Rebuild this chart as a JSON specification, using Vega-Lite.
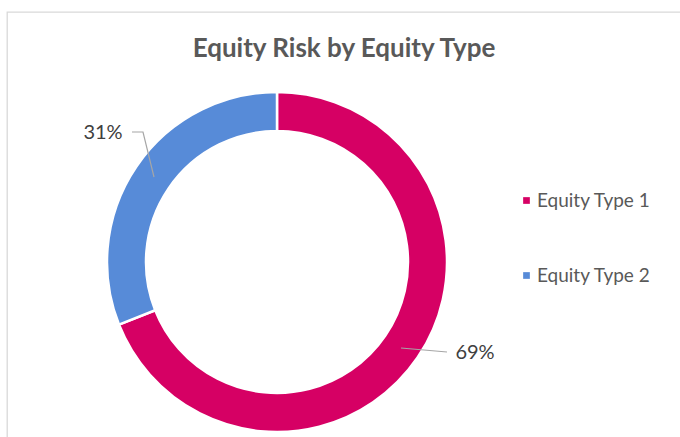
{
  "$schema": "https://vega.github.io/schema/vega-lite/v6.json",
  "width": 700,
  "height": 440,
  "autosize": "none",
  "padding": {"left": 7, "top": 12, "right": 0, "bottom": 0},
  "background": "white",
  "config": {"view": {"stroke": "#D9D9D9", "strokeWidth": 1.3}, "font": "Lato"},
  "title": {
    "text": "Equity Risk by Equity Type",
    "font": "Lato",
    "fontSize": 26,
    "fontWeight": "bold",
    "color": "#595959",
    "anchor": "middle",
    "baseline": "alphabetic",
    "dx": -13,
    "dy": 75
  },
  "layer": [
    {
      "data": {"values": [
        {"type": "Equity Type 1", "value": 69},
        {"type": "Equity Type 2", "value": 31}
      ]},
      "mark": {"type": "arc", "innerRadius": 131, "outerRadius": 170, "stroke": "white", "strokeWidth": 2.5},
      "encoding": {
        "theta": {"field": "value", "type": "quantitative", "stack": true},
        "color": {
          "field": "type",
          "type": "nominal",
          "scale": {"domain": ["Equity Type 1", "Equity Type 2"], "range": ["#D60064", "#578BD8"]},
          "legend": {
            "orient": "none",
            "legendX": 510,
            "legendY": 179,
            "title": null,
            "symbolType": "square",
            "symbolSize": 45,
            "symbolStrokeWidth": 0,
            "labelFont": "Lato",
            "labelFontSize": 19,
            "labelColor": "#595959",
            "labelOffset": 1,
            "rowPadding": 55
          }
        },
        "x": {"datum": 0, "type": "quantitative", "scale": {"domain": [-270, 430], "nice": false, "zero": false}, "axis": null},
        "y": {"datum": 0, "type": "quantitative", "scale": {"domain": [-190, 250], "nice": false, "zero": false}, "axis": null}
      }
    },
    {
      "data": {"values": [
        {"label": "31%", "seq": 1, "lx": -145, "ly": 130},
        {"label": "31%", "seq": 2, "lx": -134, "ly": 130},
        {"label": "31%", "seq": 3, "lx": -123, "ly": 85},
        {"label": "69%", "seq": 1, "lx": 124, "ly": -86},
        {"label": "69%", "seq": 2, "lx": 170, "ly": -90}
      ]},
      "mark": {"type": "line", "color": "#A6A6A6", "strokeWidth": 1.2},
      "encoding": {
        "x": {"field": "lx", "type": "quantitative"},
        "y": {"field": "ly", "type": "quantitative"},
        "detail": {"field": "label"},
        "order": {"field": "seq"}
      }
    },
    {
      "data": {"values": [
        {"label": "31%", "lx": -174, "ly": 129},
        {"label": "69%", "lx": 198, "ly": -91}
      ]},
      "mark": {"type": "text", "font": "Lato", "fontSize": 20, "color": "#404040", "align": "center", "baseline": "middle"},
      "encoding": {
        "x": {"field": "lx", "type": "quantitative"},
        "y": {"field": "ly", "type": "quantitative"},
        "text": {"field": "label"}
      }
    }
  ]
}
